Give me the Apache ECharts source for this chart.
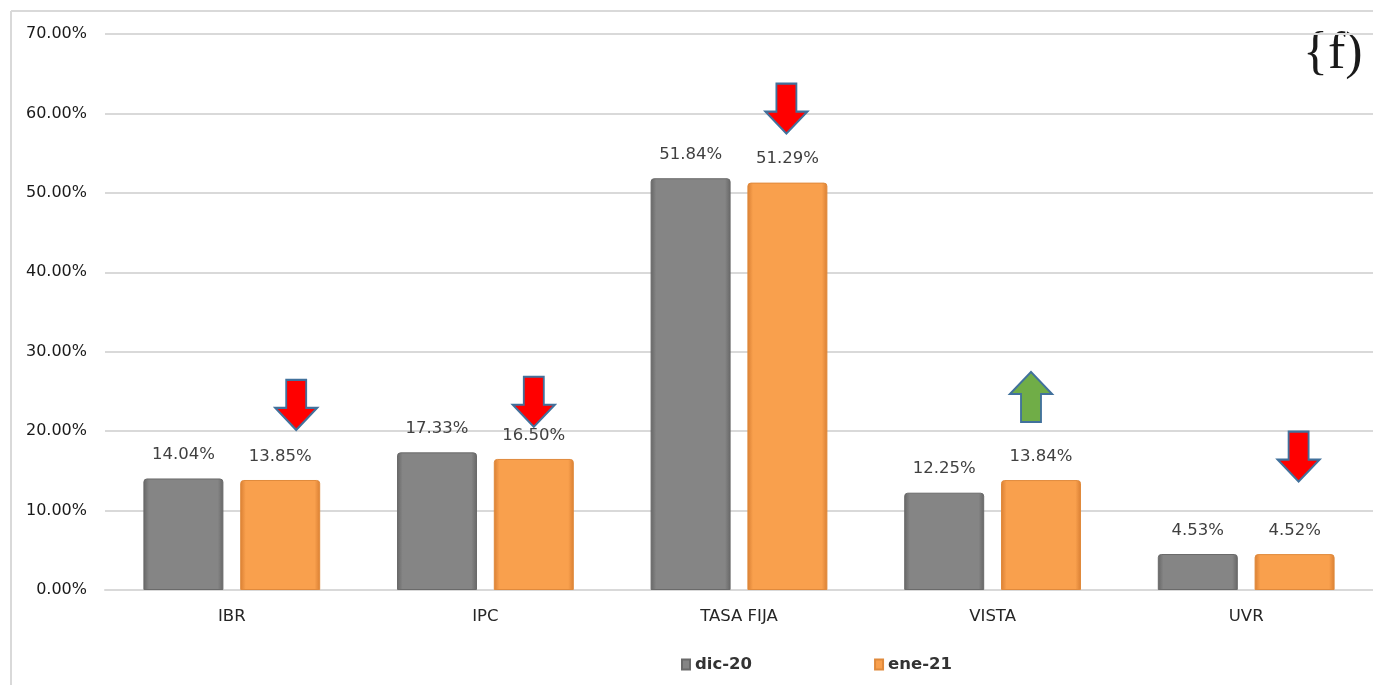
<!DOCTYPE html>
<html>
<head>
<meta charset="utf-8">
<script src="https://cdn.jsdelivr.net/npm/echarts@6/dist/echarts.min.js"></script>
<style>
html,body{margin:0;padding:0;background:#fff;overflow:hidden;}
#chart{width:1373px;height:685px;}
</style>
</head>
<body>
<div id="chart"></div>
<script>
const categories = ['IBR', 'IPC', 'TASA FIJA', 'VISTA', 'UVR'];
const seriesNames = ['dic-20', 'ene-21'];
const dic20 = [14.04, 17.33, 51.84, 12.25, 4.53];
const ene21 = [13.85, 16.50, 51.29, 13.84, 4.52];
const yTicks = { min: 0, max: 70, interval: 10 };
// arrow annotations: category, direction, value level of arrow centre
const arrowCats = ['IBR', 'IPC', 'TASA FIJA', 'VISTA', 'UVR'];
const arrowDirs = ['down', 'down', 'down', 'up', 'down'];
const arrowLevels = [23.3, 23.7, 60.6, 24.3, 16.8];
const cornerNote = '{f)';

const arrowShift = [16, 0, -1, -10, 4]; // px nudge from bar centre
const DOWN = 'path://M11,0 L31,0 L31,28 L42,28 L21,50 L0,28 L11,28 Z';
const UP = 'path://M11,50 L31,50 L31,22 L42,22 L21,0 L0,22 L11,22 Z';

function hgrad(edge, mid) {
  return new echarts.graphic.LinearGradient(0, 0, 1, 0, [
    {offset: 0, color: edge}, {offset: 0.07, color: mid},
    {offset: 0.93, color: mid}, {offset: 1, color: edge}
  ]);
}
const grayFill = hgrad('#666666', '#858585');
const orangeFill = hgrad('#d97f33', '#f9a04d');

const FONT = 'DejaVu Sans, Verdana, sans-serif';
const chart = echarts.init(document.getElementById('chart'));
const labelStyle = {
  show: true, position: 'top', distance: 15,
  fontFamily: FONT, fontSize: 16.5, color: '#404040',
  formatter: p => p.value.toFixed(2) + '%'
};
chart.setOption({
  animation: false,
  backgroundColor: '#ffffff',
  grid: { left: 105, right: -2, top: 34, bottom: 95, containLabel: false },
  xAxis: {
    type: 'category', data: categories,
    axisLine: { lineStyle: { color: '#d9d9d9', width: 2 } },
    axisTick: { show: false },
    axisLabel: { margin: 18, fontFamily: FONT, fontSize: 16.5, color: '#262626' }
  },
  yAxis: {
    type: 'value', min: yTicks.min, max: yTicks.max, interval: yTicks.interval,
    axisLine: { show: false }, axisTick: { show: false },
    splitLine: { lineStyle: { color: '#d9d9d9', width: 2 } },
    axisLabel: { margin: 18, fontFamily: FONT, fontSize: 16, color: '#1a1a1a',
      formatter: v => v.toFixed(2) + '%' }
  },
  legend: {
    data: seriesNames, left: 676, top: 651, itemWidth: 8, itemHeight: 10, itemGap: 122,
    icon: 'rect',
    textStyle: { fontFamily: FONT, fontSize: 16.5, fontWeight: 'bold', color: '#333333' }
  },
  series: [
    { name: seriesNames[0], type: 'bar', data: dic20, barWidth: 80, barGap: '21%',
      itemStyle: { color: grayFill, borderColor: '#6a6a6a', borderWidth: 1, borderRadius: [3,3,0,0] },
      label: labelStyle },
    { name: seriesNames[1], type: 'bar', data: ene21, barWidth: 80,
      itemStyle: { color: orangeFill, borderColor: '#e08a3c', borderWidth: 1, borderRadius: [3,3,0,0] },
      label: labelStyle,
      markPoint: {
        silent: true,
        label: { show: false },
        data: arrowCats.map((c, i) => ({
          coord: [c, arrowLevels[i]],
          symbol: arrowDirs[i] === 'up' ? UP : DOWN,
          symbolSize: [42, 50],
          symbolOffset: [arrowShift[i], 0],
          itemStyle: { color: arrowDirs[i] === 'up' ? '#70ad47' : '#ff0000', borderColor: '#41719c', borderWidth: 2 }
        }))
      }
    }
  ],
  graphic: [
    { type: 'line', silent: true, shape: { x1: 11, y1: 11, x2: 11, y2: 690 },
      style: { stroke: '#d9d9d9', lineWidth: 2 } },
    { type: 'line', silent: true, shape: { x1: 11, y1: 11, x2: 1380, y2: 11 },
      style: { stroke: '#d9d9d9', lineWidth: 2 } },
    { type: 'text', x: 1303, y: 28, silent: true,
      style: { text: cornerNote, fontFamily: 'Liberation Serif, DejaVu Serif, serif', fontSize: 52, fill: '#1a1a1a' } }
  ]
});
</script>
</body>
</html>
